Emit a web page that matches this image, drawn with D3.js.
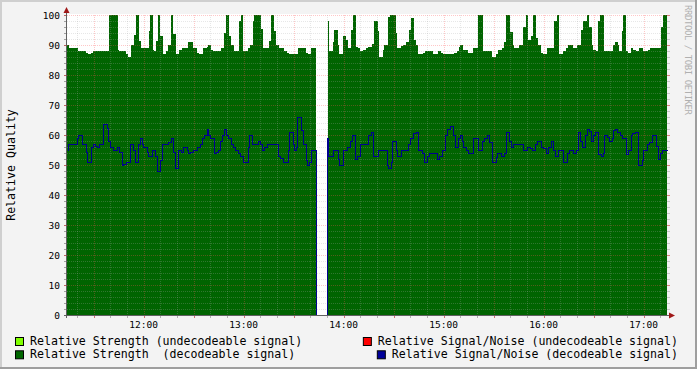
<!DOCTYPE html>
<html>
<head>
<meta charset="utf-8">
<script src="https://cdn.jsdelivr.net/npm/d3@7/dist/d3.min.js"></script>
<style>
  body { margin: 0; background: #f3f3f3; }
  svg { display: block; font-family: "DejaVu Sans Mono", monospace; }
</style>
</head>
<body>
<div id="chart"></div>
<script>
// data: step start (minutes after 11:14) and value
var strengthStart = [0,1.2,6.4,11.2,12.4,14.2,15.8,25.2,30.4,31.2,35.4,36.8,38.4,40.2,41.4,43,44.6,49.2,49.8,51.4,52.2,53.4,54.8,55.8,57.4,59.2,60.8,62.4,63.8,65.4,67.2,68.8,72.8,75.8,77.8,79.2,81.8,83.8,84.8,86.4,87.8,92.4,94.2,95.4,97,98.4,
  100.2,103.2,104.4,105.8,108.8,109.8,111.8,112.2,116.4,117.6,121.2,122.4,124.2,125.4,127.2,130.2,131.8,133.4,138.6,143.4,144.8,146.4,149.4,156.4,157.2,159.8,160.4,162.4,163.4,165.8,167.2,168.4,170.6,171.8,173.2,174.8,175.8,177.8,179.4,180.8,182.8,184.2,186.6,187.2,189.4,190.2,192.8,193.8,197.2,198.2,200.4,201.8,203.2,205.2,206.2,208,209.2,210.8,213.8,214.8,219.4,222.4,224.2,225.8,232.2,233.8,235.2,
  235.8,237.8,240.8,243.8,246.8,249.8,255.2,257.2,258.8,260.8,262.4,263.4,265.8,267.4,268.2,271.4,273.8,275.4,276.8,278.2,279.8,281.4,282.8,284.2,285.4,287.8,292.2,293.8,295.2,297.8,299.4,300.8,303.4,306.2,308.2,309.8,311.8,313.4,314.8,315.8,317.4,318.8,319.8,322.2,327.4,328.8,330.4,331.2,332.8,333.8,335.2,336.8,338.4,339.4,341.2,343.2,345.4,348.8,349.8,356.2,357.8];
var strengthValue = [90,89,88,87.5,87,87.5,88,100,88.5,88,87,86,90,93.3,100,91.3,89,94.7,100,88.5,88,91.3,100,93,87,88,90,100,93.7,87,88.5,89,91,89,87.5,87,89,89.5,90,88.3,88,89,94,100,93,90,
  88,98,100,88,89,90,98,100,95.3,89,91.3,100,94.7,90,89,88,87.5,87,89,87.5,87,89,0,98,88,91,95,90,87,93,91.7,89,95,100,89.5,89,88,88.3,89,89.5,90.5,98,94.7,86,88.3,90,99.4,100,93.9,89,89.7,90,91,95,99,91.7,90,87,87.5,88,87,88,87.5,87,87.5,88,89.3,
  90,88.3,87.2,89,100,88,86,87,88.3,89,91,100,94.4,90,89,90,96,100,91.7,93,100,92.3,90,87.5,87,89,98,100,87,88,89,90,89,90,95,98,100,96,90,88.3,88,98,100,88,90,91,90,88,94.7,100,88,87.2,89,88.5,88,89,88,88.5,89,96,100];

var snrStart = [0,0.8,6.2,6.8,9.2,11.2,12.2,14.2,15.4,16.8,17.8,19.4,21.8,23.8,24.8,25.8,27.8,30.2,31.4,32.8,33.8,35.4,37.8,39.8,40.8,42.8,43.8,44.8,45.8,48.2,48.8,50.8,52.8,53.8,55.8,57.2,60.8,62.4,63.8,64.8,66.8,68.2,69.8,71.8,72.8,73.8,75.8,78.2,79.8,81.2,82.2,83.8,84.8,85.8,88.2,89.4,90.8,91.8,93.2,94.2,95.2,96.8,98.2,99.8,100.8,102.8,103.8,105.8,108.4,109.4,110.8,114.8,115.8,116.8,118.2,119.8,126.8,127.8,129.4,132.4,133.2,
  135.4,136.2,137.2,138.2,140.2,141.4,143.2,144.2,145.2,146.2,149.2,156.2,156.8,159.4,162.4,163.4,165.4,167.8,169.8,170.8,172.8,174.2,175.8,180.8,182.2,183.4,186.8,191.8,192.8,194.2,195.2,197.4,198.2,200.2,204.8,205.8,207.8,209.4,210.8,213.2,214.2,216.2,217.4,221.8,223.2,224.8,226.8,228.2,229.8,231.8,232.8,234.8,235.8,237.2,237.8,239.2,240.8,243.8,246.8,248.8,
  250.2,252.2,253.4,255.2,257.2,258.2,260.2,262.2,263.2,265.4,266.4,267.8,273.4,276.2,277.8,278.8,280.8,282.2,284.2,285.8,287.2,288.8,290.2,291.8,292.8,294.8,297.4,300.2,301.4,303.8,305.4,306.4,307.8,309.2,310.8,312.2,313.2,314.4,315.8,316.8,318.8,320.2,321.4,322.2,324.2,325.2,326.8,327.8,328.8,330.2,331.8,333.2,335.2,336.8,338.2,339.2,340.8,342.8,345.2,345.8,348.2,349.2,351.2,353.2,354.8,355.8,357.2];
var snrValue = [55,57,59,60,57,54.2,51,56,57,56.5,56,57,63.7,62.5,57.9,56,55,56,54.2,50,50.5,51,57,55,51,57,59,57,56,54.2,53,55,53,48,51.7,57,57.8,59,54.4,49,55,54.4,56,55,53.9,54.2,55,56,57,59,60,61.9,60,59,53.9,54.2,55,58,60,61.9,60,59,57,56,55,53.9,53,51,56,60,57,58,57,55,56,57,53,52.2,51,55,60.9,
  57,55,56,65.9,61.7,57,51.7,50,51,55,0,59,53,55,52,50,55,56,58,60,52,53,57,60,60.9,53,55,50,49,51,58,55,53,55,57,59,60.6,60.9,55,53.9,51,53,54,52,53,55,60,61.9,63,60,56,59,60,58,56,55,54,59,55,58,
  59,60,57.8,51,52.6,54,53,54,60.9,58,56,57,55,56,55.6,55,57,58,56,55.6,53.9,56,58,55,53,55,51,54,55,54,55,60.9,58,56,60,61.9,61.3,58,60,60.9,53.7,53,54,60,59.3,58,59,61.7,61.9,60.9,60,59,53.7,55,60,60.6,60.9,50,51.7,55,57,57.6,60,56.5,52,54,55];

var totalMinutes = 360;
var yTicks = [0, 10, 20, 30, 40, 50, 60, 70, 80, 90, 100];
var legendItems = [
  {label: "Relative Strength (undecodeable signal)", color: "#80ff00", col: 0, row: 0},
  {label: "Relative Signal/Noise (undecodeable signal)", color: "#ff0000", col: 1, row: 0},
  {label: "Relative Strength  (decodeable signal)", color: "#006600", col: 0, row: 1},
  {label: "Relative Signal/Noise (decodeable signal)", color: "#000099", col: 1, row: 1}
];

var W = 697, H = 369;
var t0 = new Date(2024, 0, 1, 11, 14);
var t1 = d3.timeMinute.offset(t0, totalMinutes);

function toPoints(starts, values) {
  var pts = starts.map(function(s, i) { return {t: new Date(+t0 + s * 60000), v: values[i]}; });
  pts.push({t: t1, v: values[values.length - 1]});
  return pts;
}
var strength = toPoints(strengthStart, strengthValue);
var snr = toPoints(snrStart, snrValue);

var svg = d3.select("#chart").append("svg")
  .attr("width", W).attr("height", H);

// background + 3d border
svg.append("rect").attr("width", W).attr("height", H).attr("fill", "#f3f3f3");
svg.append("rect").attr("x", 0).attr("y", 0).attr("width", W).attr("height", 2).attr("fill", "#cfcfcf");
svg.append("rect").attr("x", 0).attr("y", 0).attr("width", 2).attr("height", H).attr("fill", "#cfcfcf");
svg.append("rect").attr("x", 0).attr("y", H - 2).attr("width", W).attr("height", 2).attr("fill", "#9e9e9e");
svg.append("rect").attr("x", W - 2).attr("y", 0).attr("width", 2).attr("height", H).attr("fill", "#9e9e9e");

var x = d3.scaleTime().domain([t0, t1]).range([67, 667]);
var y = d3.scaleLinear().domain([0, 100]).range([315, 15]);

// plot canvas
svg.append("rect").attr("x", 67).attr("y", 14).attr("width", 600).attr("height", 301).attr("fill", "#ffffff");

// strength area
svg.append("path")
  .datum(strength)
  .attr("fill", "#006400")
  .attr("shape-rendering", "crispEdges")
  .attr("d", d3.area().curve(d3.curveStepAfter)
    .x(function(d) { return x(d.t); })
    .y0(y(0))
    .y1(function(d) { return y(d.v); }));

// grid, drawn over the data like rrdtool
var minorColor = "rgba(170,170,170,0.28)";
var majorColor = "rgba(255,80,80,0.32)";
var grid = svg.append("g").attr("shape-rendering", "crispEdges");

d3.range(0, 101, 2).forEach(function(v) {
  var major = v % 10 === 0;
  var yy = Math.round(y(v)) + 0.5;
  if (v > 0) {
    grid.append("line").attr("x1", 67).attr("x2", 667).attr("y1", yy).attr("y2", yy)
      .attr("stroke", major ? majorColor : minorColor).attr("stroke-dasharray", "1,1");
  }
  grid.append("line").attr("x1", 64).attr("x2", 67).attr("y1", yy).attr("y2", yy)
    .attr("stroke", major ? "#c06060" : "#a0a0a0");
  grid.append("line").attr("x1", 667).attr("x2", 670).attr("y1", yy).attr("y2", yy)
    .attr("stroke", major ? "#e08080" : "#c8c8c8");
});

x.ticks(d3.timeMinute.every(10)).forEach(function(t) {
  var major = t.getMinutes() % 30 === 0;
  var xx = Math.round(x(t)) + 0.5;
  grid.append("line").attr("x1", xx).attr("x2", xx).attr("y1", 15).attr("y2", 315)
    .attr("stroke", major ? majorColor : minorColor).attr("stroke-dasharray", "1,1");
  grid.append("line").attr("x1", xx).attr("x2", xx).attr("y1", 315).attr("y2", 318)
    .attr("stroke", major ? "#d07070" : "#b0b0b0");
});

// snr line
svg.append("path")
  .datum(snr)
  .attr("fill", "none")
  .attr("stroke", "#000090")
  .attr("stroke-width", 1.2)
  .attr("shape-rendering", "crispEdges")
  .attr("d", d3.line().curve(d3.curveStepAfter)
    .x(function(d) { return Math.round(x(d.t)) + 0.5; })
    .y(function(d) { return Math.round(y(d.v)) + 0.5; }));

// axes
var axisColor = "#606060";
svg.append("line").attr("x1", 64).attr("x2", 670).attr("y1", 315.5).attr("y2", 315.5)
  .attr("stroke", axisColor).attr("shape-rendering", "crispEdges");
svg.append("line").attr("x1", 66.5).attr("x2", 66.5).attr("y1", 11).attr("y2", 318)
  .attr("stroke", axisColor).attr("shape-rendering", "crispEdges");
svg.append("path").attr("d", "M63.5,13 L66.5,7 L69.5,13 Z").attr("fill", "#a01818");
svg.append("path").attr("d", "M669,312.5 L675,315.5 L669,318.5 Z").attr("fill", "#a01818");

// y labels
svg.append("g").selectAll("text").data(yTicks).enter().append("text")
  .attr("x", 60).attr("y", function(d) { return y(d) + 3.5; })
  .attr("text-anchor", "end").attr("font-size", "9.5px").attr("fill", "#000")
  .text(function(d) { return d; });

// x labels
var fmt = d3.timeFormat("%H:%M");
svg.append("g").selectAll("text").data(x.ticks(d3.timeHour.every(1))).enter().append("text")
  .attr("x", function(d) { return x(d); }).attr("y", 327.5)
  .attr("text-anchor", "middle").attr("font-size", "9.5px").attr("fill", "#000")
  .text(function(d) { return fmt(d); });

// axis title
svg.append("text")
  .attr("transform", "translate(15,165) rotate(-90)")
  .attr("text-anchor", "middle").attr("font-size", "11.6px").attr("fill", "#000")
  .text("Relative Quality");

// watermark
svg.append("text")
  .attr("transform", "translate(685,5) rotate(90)")
  .attr("font-size", "9px").attr("fill", "#b0b0b0")
  .attr("textLength", 110).attr("lengthAdjust", "spacing")
  .text("RRDTOOL / TOBI OETIKER");

// legend
var legend = svg.append("g").attr("font-size", "11.6px");
legendItems.forEach(function(d) {
  var g = legend.append("g");
  var t = g.append("text")
    .attr("y", 345 + d.row * 13.3)
    .attr("fill", "#000")
    .attr("xml:space", "preserve")
    .style("white-space", "pre")
    .text(d.label);
  var tx;
  if (d.col === 0) {
    tx = 30;
    t.attr("x", tx);
  } else {
    t.attr("x", 678).attr("text-anchor", "end");
    tx = 678 - t.node().getComputedTextLength();
  }
  g.append("rect")
    .attr("x", tx - 14.5).attr("y", 337.5 + d.row * 13.3)
    .attr("width", 8).attr("height", 8)
    .attr("fill", d.color).attr("stroke", "#000");
});
</script>
</body>
</html>
